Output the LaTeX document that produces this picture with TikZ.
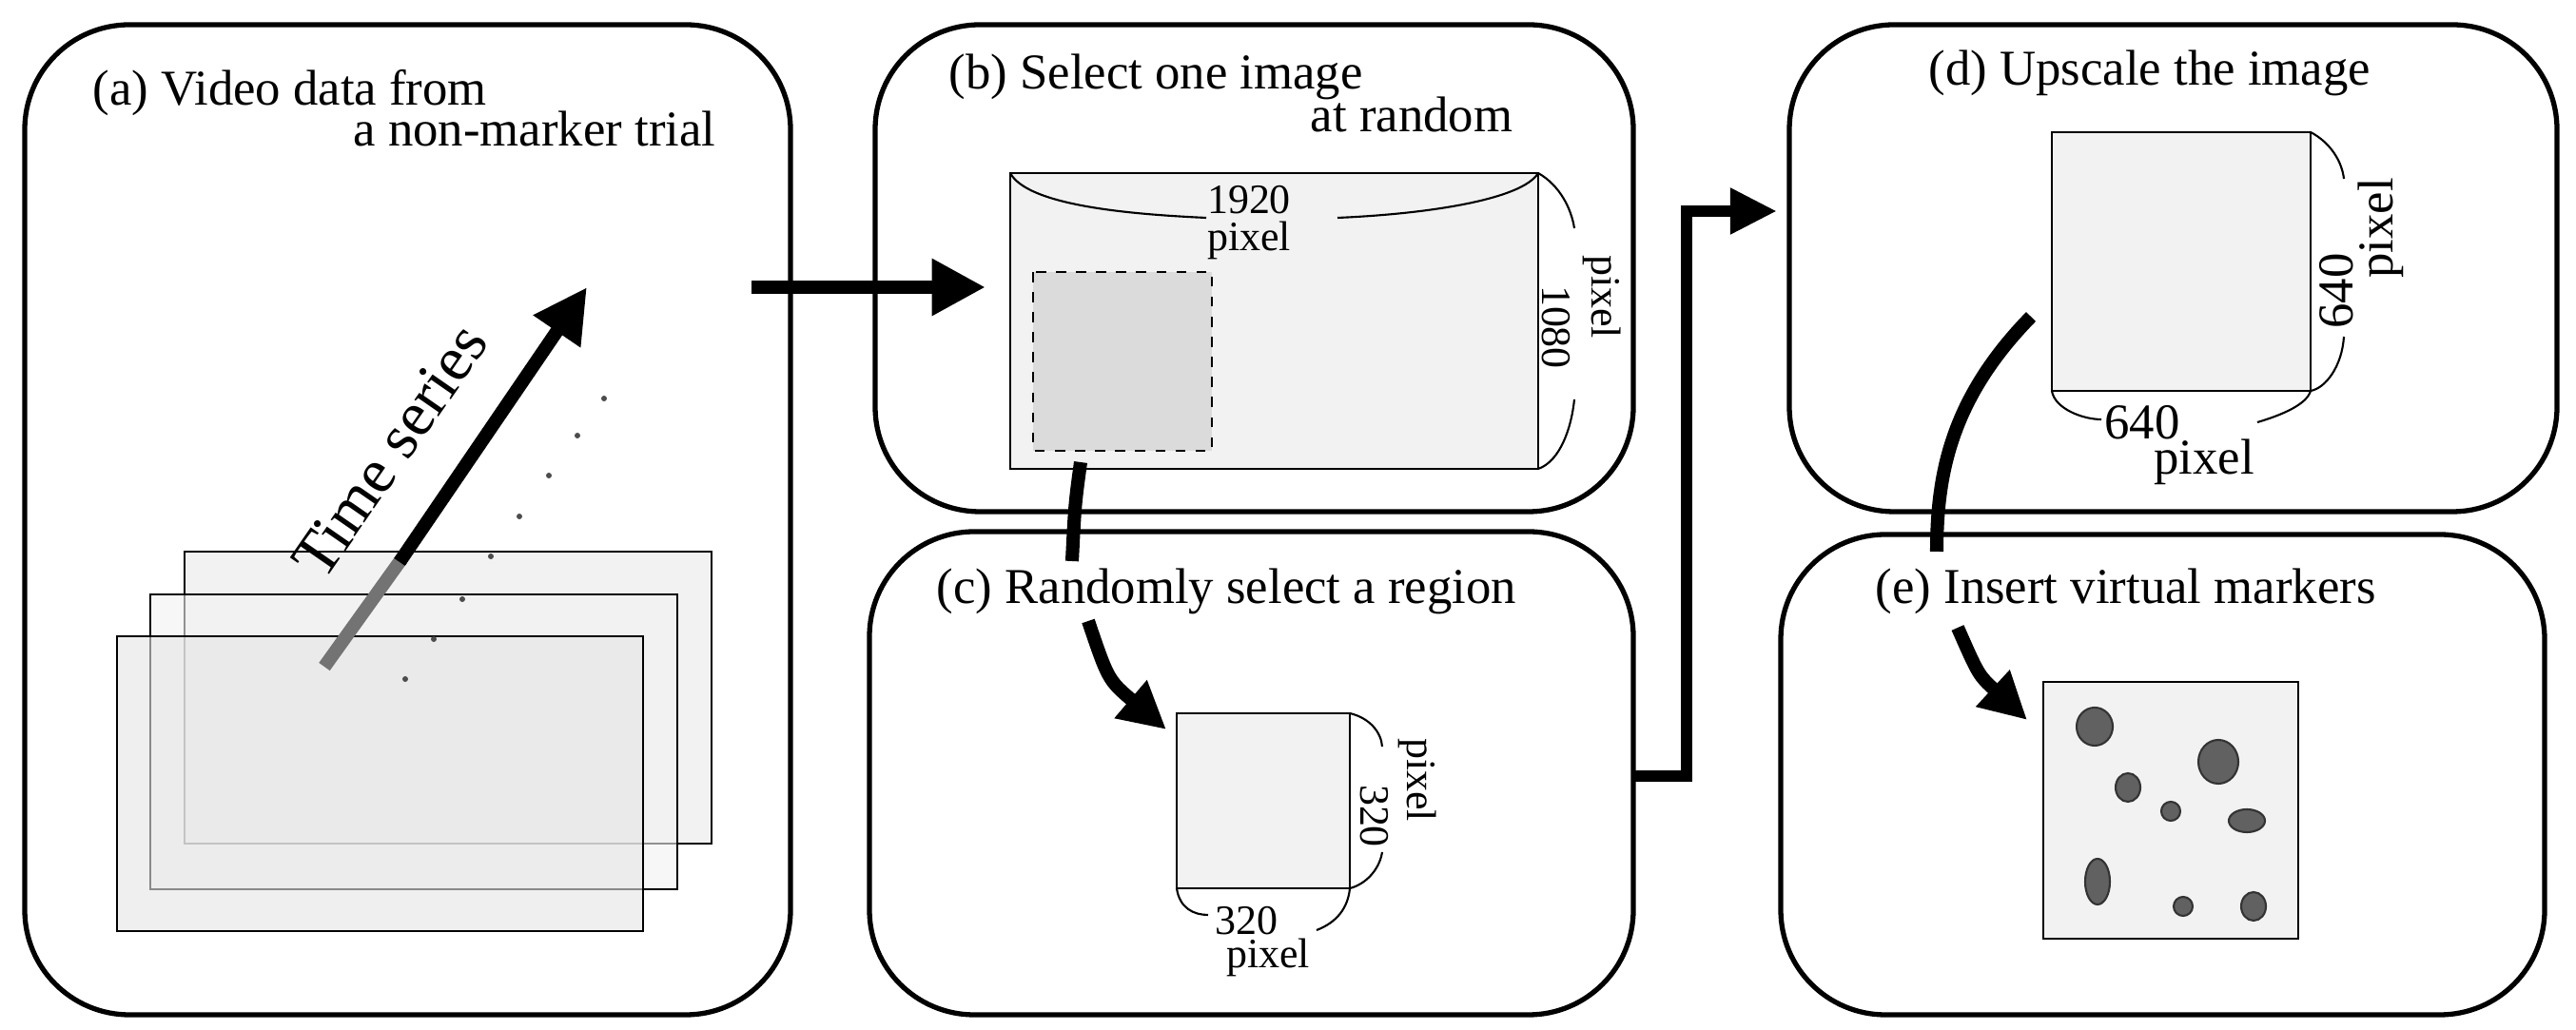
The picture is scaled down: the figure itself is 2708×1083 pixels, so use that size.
\documentclass[tikz,border=0pt]{standalone}
\usepackage{fontspec}
\setmainfont{Liberation Serif}
\usetikzlibrary{arrows.meta}
\begin{document}
\begin{tikzpicture}[x=0.01cm,y=-0.01cm,
  panel/.style={draw=black,line width=1.5pt,rounded corners=1.1cm},
  img/.style={draw=black,line width=0.7pt,fill=black!5},
  ttl/.style={font=\fontsize{15}{17}\selectfont,inner sep=0pt},
  lbl/.style={font=\fontsize{12.5}{14}\selectfont,inner sep=0pt},
  dim/.style={line width=0.6pt},
  thick arrow/.style={line width=4pt,-{Triangle[length=16pt,width=16pt]}},
  curve arrow/.style={line width=4pt,-{Triangle[length=14pt,width=14pt]}},
  mk/.style={draw=black!80,fill=black!62,line width=0.6pt}]
\useasboundingbox (0,0) rectangle (2708,1083);
% panels
\draw[panel] (26,26) rectangle (831,1067);
\draw[panel] (920,26) rectangle (1717,538);
\draw[panel] (914,559) rectangle (1717,1067);
\draw[panel] (1881,26) rectangle (2688,538);
\draw[panel] (1872,562) rectangle (2675,1067);
% titles
\node[ttl,anchor=base west] (ta1) at (97,111) {(a) Video data from};
\node[ttl,anchor=base east] (ta2) at (753,154) {a non-marker trial};
\node[ttl,anchor=base west] (tb1) at (997,94) {(b) Select one image};
\node[ttl,anchor=base east] (tb2) at (1591,139) {at random};
\node[ttl,anchor=base west] (tc) at (984,635) {(c) Randomly select a region};
\node[ttl,anchor=base west] (td) at (2027,90) {(d) Upscale the image};
\node[ttl,anchor=base west] (te) at (1971,635) {(e) Insert virtual markers};
% (a) frames
\draw[img,fill=black!5] (194,580) rectangle (748,887);
\draw[img,fill=black!5,fill opacity=0.6] (158,625) rectangle (712,935);
\draw[img,fill=black!10,fill opacity=0.6] (123,669) rectangle (676,979);
% dots
\foreach \p in {(635,419),(607,458),(577,500),(546,543),(516,585),(486,630),(456,672),(426,714)}
  \fill[black!70] \p circle (3);
% time series arrow
\coordinate (ts0) at (341,701);
\coordinate (ts1) at (422,588);
\coordinate (ts2) at (617,302);
\draw[line width=4pt,black!55] (ts0) -- (ts1);
\draw[thick arrow,shorten <=-1pt] (ts1) -- (ts2);
\node[font=\fontsize{19}{21}\selectfont,rotate=55.3,inner sep=0pt] (tsl) at (410,474) {Time series};
% a -> b
\coordinate (ab0) at (790,302);
\coordinate (ab1) at (1036,302);
\draw[thick arrow] (ab0) -- (ab1);
% (b) image
\draw[img] (1062,182) rectangle (1617,493);
\draw[dashed,line width=0.7pt,fill=black!14] (1086,286) rectangle (1274,474);
\node[lbl] (n1920) at (1313,210) {1920};
\node[lbl] (p1920) at (1313,253) {pixel};
\draw[dim] (1062,182) .. controls (1080,215) and (1180,225) .. (1268,229);
\draw[dim] (1406,229) .. controls (1500,225) and (1600,210) .. (1617,182);
\node[lbl,rotate=-90] (n1080) at (1636,344) {1080};
\node[lbl,rotate=-90] (p1080) at (1684,312) {pixel};
\draw[dim] (1617,182) .. controls (1640,195) and (1652,220) .. (1655,240);
\draw[dim] (1655,420) .. controls (1652,450) and (1640,485) .. (1617,493);
% b -> c connector
\draw[line width=4pt] (1136,486) .. controls (1130,530) .. (1127,590);
\draw[curve arrow] (1144,653) .. controls (1165,715) .. (1226,767);
% (c) image
\draw[img] (1237,750) rectangle (1419,934);
\node[lbl] (n320a) at (1310,968) {320};
\node[lbl] (p320a) at (1333,1007) {pixel};
\draw[dim] (1237,934) .. controls (1240,955) and (1255,962) .. (1270,962);
\draw[dim] (1384,978) .. controls (1405,970) and (1417,955) .. (1419,934);
\node[lbl,rotate=-90] (n320b) at (1445,858) {320};
\node[lbl,rotate=-90] (p320b) at (1490,820) {pixel};
\draw[dim] (1419,750) .. controls (1440,755) and (1452,770) .. (1453,785);
\draw[dim] (1453,896) .. controls (1450,915) and (1435,930) .. (1419,934);
% c -> d connector
\coordinate (cd0) at (1717,816);
\coordinate (cd1) at (1773,816);
\coordinate (cd2) at (1773,222);
\coordinate (cd3) at (1868,222);
\draw[line width=3.5pt,-{Triangle[length=14pt,width=13pt]}] (cd0) -- (cd1) -- (cd2) -- (cd3);
% (d) image
\draw[img] (2157,139) rectangle (2429,411);
\node[ttl] (n640a) at (2252,444) {640};
\node[ttl] (p640a) at (2317,486) {pixel};
\draw[dim] (2157,411) .. controls (2160,430) and (2190,441) .. (2209,441);
\draw[dim] (2373,444) .. controls (2400,436) and (2425,425) .. (2429,411);
\node[ttl,rotate=90] (n640b) at (2456,306) {640};
\node[ttl,rotate=90] (p640b) at (2503,240) {pixel};
\draw[dim] (2429,139) .. controls (2450,150) and (2462,170) .. (2464,188);
\draw[dim] (2464,354) .. controls (2462,385) and (2445,408) .. (2429,411);
% d -> e connector
\draw[line width=4pt] (2135,333) .. controls (2050,420) and (2036,500) .. (2036,580);
\draw[curve arrow] (2058,660) .. controls (2080,710) .. (2131,757);
% (e) image
\draw[img] (2148,717) rectangle (2416,987);
\draw[mk] (2202,764) ellipse [x radius=19,y radius=20];
\draw[mk] (2332,801) ellipse [x radius=21,y radius=23];
\draw[mk] (2237,828) ellipse [x radius=13,y radius=15];
\draw[mk] (2282,853) ellipse [x radius=10,y radius=10];
\draw[mk] (2362,863) ellipse [x radius=19,y radius=12];
\draw[mk] (2205,927) ellipse [x radius=13,y radius=24];
\draw[mk] (2295,953) ellipse [x radius=10,y radius=10];
\draw[mk] (2369,953) ellipse [x radius=13,y radius=15];
\end{tikzpicture}
\end{document}
